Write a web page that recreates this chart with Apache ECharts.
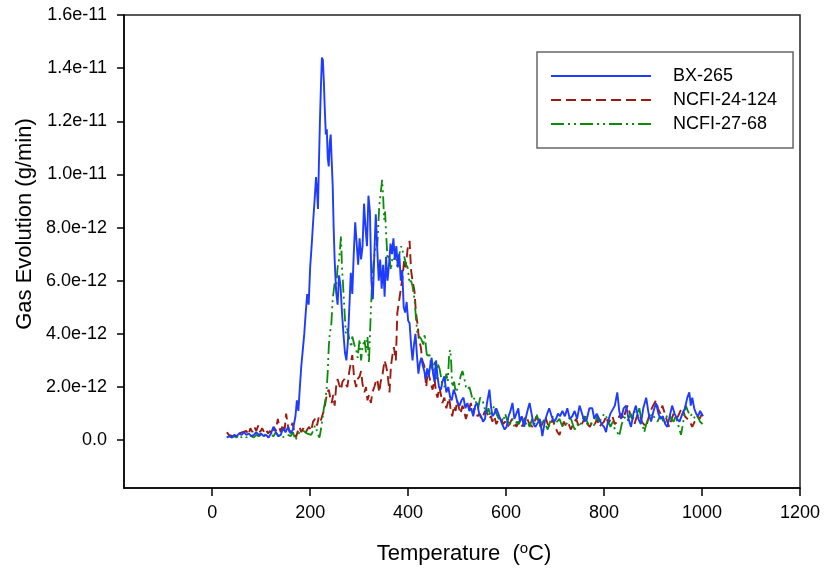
<!DOCTYPE html>
<html>
<head>
<meta charset="utf-8">
<script src="https://cdn.jsdelivr.net/npm/echarts@6/dist/echarts.min.js"></script>
<style>
html,body{margin:0;padding:0;background:#fff;}
#chart{width:825px;height:571px;}
</style>
</head>
<body>
<div id="chart"></div>
<script>
// Temperature (°C) tick labels and gas evolution ticks (in units of 1e-12 g/min)
const temperatureTicks = [0, 200, 400, 600, 800, 1000, 1200];
const evolutionTicks = [0, 2, 4, 6, 8, 10, 12, 14, 16];
const seriesNames = ['BX-265', 'NCFI-24-124', 'NCFI-27-68'];

// [temperature °C, gas evolution ×1e-12 g/min]
const bx265 = [[30,0.1],[35,0.15],[40,0.1],[45,0.2],[50,0.15],[55,0.25],[60,0.2],[65,0.3],[70,0.2],[75,0.25],[80,0.15],[85,0.2],[90,0.3],[95,0.2],[100,0.25],[105,0.15],[110,0.2],[115,0.1],[120,0.25],[125,0.5],[130,0.3],[135,0.15],[140,0.2],[145,0.45],[150,0.3],[155,0.5],[160,0.25],[165,0.4],[170,0.9],[173,1.5],[176,1.1],[179,2.0],[182,2.8],[185,3.4],[188,4.0],[191,4.8],[194,5.5],[197,5.1],[200,6.5],[203,7.3],[206,8.2],[209,9.0],[212,9.9],[214,9.4],[216,8.7],[218,10.5],[220,12.0],[222,13.3],[224,14.4],[226,14.3],[228,13.5],[230,12.4],[232,11.5],[234,11.7],[236,10.6],[238,10.3],[240,11.2],[242,11.5],[244,10.5],[246,9.6],[248,8.0],[250,6.8],[253,5.6],[256,5.1],[259,6.2],[262,5.8],[265,4.8],[268,4.0],[271,3.3],[274,3.0],[277,3.7],[280,5.0],[283,6.3],[286,5.5],[289,7.0],[292,8.2],[295,7.4],[298,6.6],[301,7.6],[304,6.8],[307,7.3],[310,8.9],[313,8.0],[316,7.3],[319,9.2],[322,8.6],[325,6.0],[328,5.3],[331,7.0],[334,8.5],[337,7.2],[340,6.0],[343,6.8],[346,5.7],[349,6.6],[352,5.4],[355,6.9],[358,6.0],[361,6.6],[364,7.4],[367,7.0],[370,7.6],[373,6.8],[376,7.3],[379,6.5],[382,7.0],[385,6.0],[388,6.4],[391,5.0],[394,4.8],[397,5.2],[400,4.5],[403,4.4],[406,3.6],[409,3.0],[412,3.6],[415,4.0],[418,3.2],[421,2.5],[424,2.9],[427,3.1],[430,2.8],[433,2.6],[436,2.3],[439,2.7],[442,2.4],[445,2.8],[448,3.1],[451,2.5],[454,2.2],[457,3.0],[460,2.4],[463,2.0],[467,1.9],[470,2.2],[474,2.4],[478,1.8],[482,2.0],[486,1.6],[489,1.5],[493,1.9],[497,1.7],[501,1.4],[505,1.3],[509,1.5],[513,1.6],[517,1.2],[521,1.4],[525,1.1],[529,1.2],[533,0.9],[537,1.3],[541,1.4],[545,1.0],[549,0.9],[553,0.7],[557,0.8],[561,1.4],[566,1.9],[569,1.3],[572,0.9],[576,1.0],[580,1.2],[584,1.0],[588,0.8],[592,0.6],[597,0.4],[601,0.5],[605,0.9],[609,1.1],[613,1.4],[617,0.8],[621,1.0],[625,1.2],[628,0.7],[632,0.9],[637,0.5],[641,0.9],[645,1.2],[648,1.4],[652,1.0],[656,0.6],[660,0.5],[664,0.5],[669,0.8],[674,0.15],[679,0.7],[684,1.0],[688,1.2],[693,0.9],[698,0.7],[702,0.8],[706,1.0],[710,0.9],[715,1.1],[720,0.9],[725,1.2],[730,0.8],[735,0.9],[740,1.1],[745,0.8],[750,1.3],[755,1.0],[760,0.7],[765,0.8],[770,1.2],[776,1.2],[780,0.8],[785,1.0],[790,0.8],[795,0.6],[800,0.5],[804,0.3],[808,0.7],[813,1.0],[817,1.0],[822,1.3],[827,1.8],[831,1.1],[835,0.8],[840,1.2],[845,1.3],[850,0.8],[855,0.5],[860,1.0],[865,1.3],[870,0.8],[875,0.6],[880,1.2],[886,1.6],[891,1.0],[896,0.7],[901,1.1],[906,1.4],[911,1.0],[915,0.8],[920,0.9],[925,0.6],[929,0.5],[934,0.9],[939,1.3],[944,1.0],[949,0.8],[954,0.7],[960,1.0],[965,1.2],[970,1.6],[974,1.8],[977,1.3],[980,1.6],[984,1.2],[988,1.0],[992,0.9],[996,1.1],[1002,0.9]];

const ncfi24124 = [[30,0.3],[34,0.2],[38,0.25],[42,0.15],[46,0.2],[50,0.15],[54,0.25],[58,0.2],[62,0.3],[66,0.25],[70,0.35],[74,0.2],[78,0.45],[82,0.3],[86,0.5],[90,0.35],[94,0.55],[98,0.3],[102,0.45],[106,0.3],[110,0.4],[114,0.25],[118,0.35],[122,0.2],[126,0.5],[130,0.35],[134,0.8],[137,0.5],[140,0.3],[144,0.6],[148,0.4],[151,1.0],[154,0.6],[158,0.3],[161,0.5],[164,0.65],[168,0.3],[171,0.1],[175,0.35],[178,0.5],[182,0.3],[186,0.45],[190,0.25],[194,0.4],[198,0.5],[202,0.35],[206,0.7],[210,0.8],[214,0.55],[218,0.9],[222,0.75],[226,1.0],[229,1.15],[232,1.5],[235,1.8],[238,1.9],[241,1.6],[244,1.4],[247,1.7],[250,1.3],[253,2.0],[256,2.3],[259,2.1],[263,1.9],[266,2.2],[270,2.3],[273,2.1],[276,2.0],[280,2.6],[284,3.0],[286,3.2],[290,2.3],[294,2.0],[297,2.3],[301,2.4],[304,2.6],[307,2.1],[311,1.8],[314,2.0],[317,1.5],[320,1.7],[324,1.4],[327,1.8],[331,2.0],[334,2.2],[337,2.3],[341,1.8],[344,2.2],[348,2.5],[352,3.0],[355,2.8],[358,2.5],[362,1.8],[365,2.8],[368,3.2],[371,3.5],[375,3.0],[378,4.8],[382,5.3],[386,5.8],[389,6.2],[392,6.8],[395,6.5],[399,7.2],[403,7.5],[406,6.4],[409,6.0],[413,5.6],[416,4.8],[419,4.4],[422,3.8],[426,3.5],[429,3.0],[433,2.8],[437,2.0],[440,2.6],[443,2.4],[447,2.1],[450,1.9],[454,2.3],[457,1.8],[460,1.6],[464,2.0],[467,1.7],[470,1.4],[474,1.6],[478,1.2],[481,1.4],[484,1.6],[487,1.1],[490,0.9],[494,1.3],[497,1.1],[500,1.5],[504,1.2],[507,1.0],[511,1.3],[514,1.1],[518,0.8],[521,1.0],[525,1.2],[528,1.4],[532,1.0],[535,1.2],[539,1.2],[542,0.9],[546,1.0],[549,0.8],[553,0.9],[557,1.1],[562,1.0],[566,0.8],[569,0.9],[572,0.7],[576,0.9],[580,0.6],[585,0.8],[590,0.8],[594,0.6],[598,0.7],[603,0.5],[607,0.6],[612,0.8],[617,0.7],[621,0.5],[626,0.7],[631,0.5],[635,0.6],[639,0.9],[643,0.8],[648,0.6],[654,0.5],[658,0.7],[662,0.9],[667,0.6],[671,0.5],[676,0.7],[680,0.9],[685,0.6],[690,0.5],[695,0.8],[700,0.5],[705,0.3],[709,0.2],[714,0.5],[718,0.7],[723,0.5],[728,0.6],[732,0.4],[737,0.6],[743,0.8],[747,0.6],[752,0.5],[757,0.7],[762,0.9],[766,0.6],[771,0.5],[776,0.7],[781,0.6],[786,0.8],[790,0.5],[795,0.6],[800,0.7],[804,0.9],[809,0.6],[813,0.8],[817,0.9],[822,0.6],[827,0.7],[831,0.9],[836,1.0],[840,0.8],[844,1.1],[848,1.3],[853,1.0],[858,0.8],[862,0.6],[867,0.9],[872,1.0],[877,0.7],[881,0.6],[886,0.5],[890,0.8],[895,1.1],[900,1.3],[906,1.5],[910,1.2],[915,1.0],[919,1.3],[924,1.0],[929,0.7],[933,0.5],[938,0.8],[942,1.0],[947,0.8],[951,0.9],[956,1.1],[960,1.2],[965,0.9],[970,0.8],[975,0.7],[980,0.5],[985,0.7],[990,0.9],[995,0.8],[1000,1.0],[1004,1.1]];

const ncfi2768 = [[30,0.1],[35,0.15],[40,0.1],[45,0.15],[50,0.1],[55,0.2],[60,0.1],[65,0.15],[70,0.1],[75,0.2],[80,0.15],[85,0.1],[90,0.2],[95,0.15],[100,0.2],[105,0.15],[110,0.25],[115,0.1],[120,0.2],[125,0.15],[130,0.3],[135,0.15],[140,0.2],[145,0.1],[150,0.35],[155,0.2],[160,0.15],[165,0.3],[170,0.0],[174,0.15],[178,0.3],[182,0.25],[186,0.35],[190,0.3],[194,0.25],[198,0.3],[202,0.2],[206,0.35],[210,0.55],[213,0.4],[216,0.2],[219,0.1],[222,0.4],[225,0.8],[228,1.2],[231,1.5],[234,2.0],[236,2.6],[238,3.5],[240,4.0],[243,4.3],[246,5.3],[248,5.6],[250,5.9],[253,5.7],[256,6.5],[259,6.8],[261,7.2],[263,7.7],[265,6.5],[267,5.9],[270,4.9],[273,4.0],[276,4.2],[280,3.8],[284,3.5],[286,3.9],[290,3.6],[294,3.4],[297,3.1],[301,3.8],[304,3.0],[307,3.5],[311,3.8],[314,3.3],[317,3.9],[320,2.9],[323,4.4],[326,5.8],[329,6.6],[332,7.1],[335,7.4],[337,7.3],[339,8.0],[341,8.8],[344,9.3],[347,9.8],[349,9.2],[351,8.3],[353,8.6],[355,7.8],[358,6.8],[361,7.0],[365,6.4],[368,6.9],[372,6.8],[375,7.1],[378,6.5],[382,7.0],[386,7.3],[389,7.1],[392,6.9],[396,6.6],[399,6.5],[403,5.9],[406,6.0],[409,5.8],[413,5.3],[416,4.6],[419,4.0],[423,3.9],[427,3.8],[431,3.6],[434,4.0],[437,3.4],[439,3.1],[443,3.3],[447,2.8],[451,2.6],[454,3.0],[457,2.3],[460,2.9],[464,2.7],[467,2.4],[470,2.1],[474,2.0],[478,2.5],[481,2.2],[484,3.3],[486,3.4],[488,2.9],[490,2.0],[494,2.2],[497,1.8],[500,1.9],[504,2.1],[507,2.4],[511,2.6],[515,2.3],[518,2.0],[521,1.9],[525,2.0],[528,1.8],[532,1.5],[536,1.6],[539,1.4],[543,1.2],[547,1.6],[552,1.5],[556,1.2],[560,1.0],[564,1.2],[568,0.9],[572,1.1],[576,1.3],[580,1.0],[585,0.8],[590,0.9],[594,0.7],[598,1.0],[603,0.7],[608,0.6],[612,0.8],[617,0.5],[622,0.7],[626,0.6],[631,0.8],[636,0.9],[640,0.6],[644,0.7],[648,0.5],[653,0.8],[658,0.6],[662,1.0],[667,0.7],[671,0.5],[676,0.8],[680,0.6],[685,0.4],[690,0.7],[695,0.9],[700,0.6],[704,0.7],[709,0.8],[713,0.6],[718,0.5],[722,0.5],[727,0.7],[731,0.9],[736,0.6],[740,0.4],[745,0.6],[750,0.5],[754,0.7],[759,0.9],[763,0.8],[768,0.6],[772,0.7],[776,0.5],[781,0.6],[786,0.9],[790,0.7],[795,0.8],[800,1.0],[804,0.9],[809,0.7],[813,0.5],[818,0.7],[822,0.4],[827,0.3],[831,0.15],[836,0.6],[840,0.8],[845,0.9],[850,0.7],[854,1.0],[859,0.8],[863,1.1],[868,0.9],[872,1.2],[877,0.7],[882,0.3],[886,0.6],[890,0.8],[895,0.9],[899,1.0],[904,0.8],[909,0.7],[914,0.9],[919,0.8],[923,0.6],[928,0.9],[933,1.0],[937,0.8],[942,0.7],[946,0.9],[951,0.6],[957,0.2],[961,0.6],[964,1.0],[967,1.3],[971,1.1],[976,0.9],[980,1.0],[986,0.8],[991,0.9],[996,0.7],[1001,0.6]];

const FONT = '"Liberation Sans", Arial, sans-serif';
function fmtY(v) {
  if (v === 0) return '0.0';
  if (v >= 10) return (v / 10).toFixed(1) + 'e-11';
  return v.toFixed(1) + 'e-12';
}

const chart = echarts.init(document.getElementById('chart'), null, {renderer: 'canvas'});
const option = {
  animation: false,
  backgroundColor: '#fff',
  grid: {left: 124, right: 25, top: 15, bottom: 83, show: true, borderColor: '#222', borderWidth: 1.5, backgroundColor: 'transparent'},
  legend: {
    data: seriesNames,
    orient: 'vertical',
    left: 537, top: 52,
    padding: [15, 16, 15, 13],
    itemWidth: 100, itemHeight: 14, itemGap: 6,
    itemStyle: {opacity: 0, borderWidth: 0},
    lineStyle: {opacity: 1},
    borderColor: '#666', borderWidth: 1.5, backgroundColor: '#fff',
    textStyle: {fontFamily: FONT, fontSize: 18, color: '#000', padding: [0, 0, 0, 17]}
  },
  xAxis: {
    type: 'value', min: -180, max: 1200,
    axisLine: {show: true, onZero: false, lineStyle: {color: '#000', width: 1.5}},
    axisTick: {show: true, customValues: temperatureTicks, length: 8, lineStyle: {color: '#000', width: 1.5}},
    axisLabel: {customValues: temperatureTicks, margin: 16, fontFamily: FONT, fontSize: 18, color: '#000', formatter: function (v) { return String(v); }},
    splitLine: {show: false}
  },
  yAxis: {
    type: 'value', min: -1.8, max: 16,
    axisLine: {show: true, onZero: false, lineStyle: {color: '#000', width: 1.5}},
    axisTick: {show: true, customValues: evolutionTicks, length: 7, lineStyle: {color: '#000', width: 1.5}},
    axisLabel: {customValues: evolutionTicks, margin: 17, fontFamily: FONT, fontSize: 18, color: '#000', formatter: fmtY},
    splitLine: {show: false}
  },
  graphic: [
    {type: 'text', x: 25, y: 224, rotation: Math.PI / 2,
     style: {text: 'Gas Evolution (g/min)', font: '22px ' + FONT, fill: '#000', align: 'center', verticalAlign: 'middle'}},
    {type: 'text', x: 464, y: 554,
     style: {text: 'Temperature  ({sup|o}C)', font: '22px ' + FONT, fill: '#000', align: 'center', verticalAlign: 'middle',
       rich: {sup: {fontSize: 15, fontFamily: FONT, verticalAlign: 'top', padding: [0, 0, 10, 0], fill: '#000'}}}}
  ],
  series: [
    {name: seriesNames[0], type: 'line', data: bx265, symbol: 'none', z: 3,
     lineStyle: {color: '#1e3cff', width: 1.9}, itemStyle: {color: '#1e3cff'}},
    {name: seriesNames[1], type: 'line', data: ncfi24124, symbol: 'none', z: 2,
     lineStyle: {color: '#9a1c10', width: 1.9, type: [10, 5]}, itemStyle: {color: '#9a1c10'}},
    {name: seriesNames[2], type: 'line', data: ncfi2768, symbol: 'none', z: 2,
     lineStyle: {color: '#0b8a0b', width: 1.8, type: [13, 4, 2, 4, 2, 4]}, itemStyle: {color: '#0b8a0b'}}
  ]
};
chart.setOption(option);
</script>
</body>
</html>
